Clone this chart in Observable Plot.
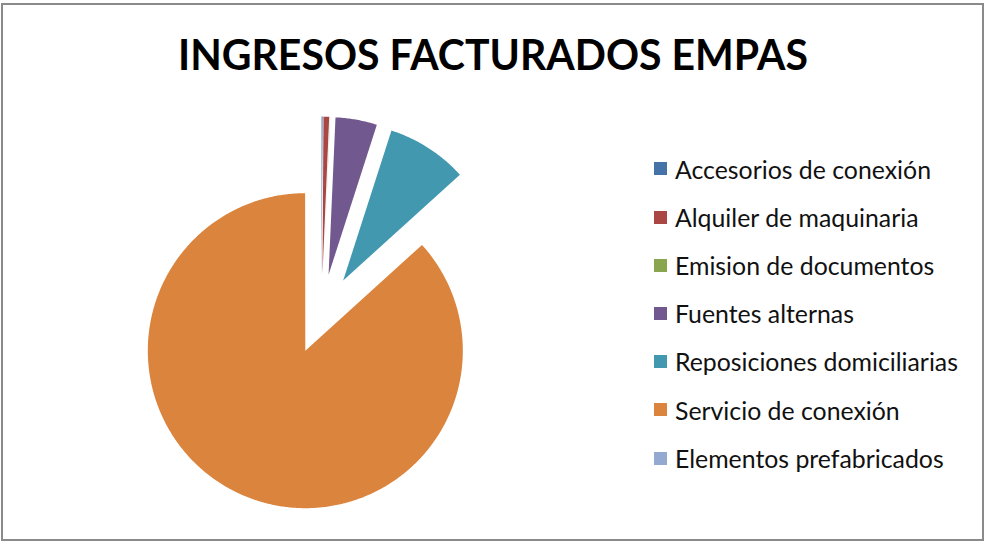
<!DOCTYPE html>
<html>
<head>
<meta charset="utf-8">
<script src="https://cdn.jsdelivr.net/npm/d3@7"></script>
<script src="https://cdn.jsdelivr.net/npm/@observablehq/plot@0.6"></script>
<style>
  html, body { margin: 0; padding: 0; background: #fff; }
  #wrap { position: relative; width: 985px; height: 542px; overflow: hidden; background: #fff; }
  #frame { position: absolute; left: 1px; top: 3px; width: 979px; height: 534px; border: 2px solid #8a8a8a; pointer-events: none; }
  #title { position: absolute; left: 0; top: 33px; font-family: Lato, "Open Sans", sans-serif; font-weight: 700; font-size: 42px; color: #000; white-space: nowrap; transform-origin: 0 0; line-height: 1; }
  #legend { position: absolute; left: 654px; top: 0; font-family: Lato, "Open Sans", sans-serif; color: #111; }
  .item { position: absolute; left: 0; white-space: nowrap; display: flex; align-items: center; }
  .sw { width: 13px; height: 13px; margin-right: 8px; flex: none; }
  .lbl { line-height: 1; }
  #chart { position: absolute; left: 0; top: 0; }
</style>
</head>
<body>
<div id="wrap">
  <div id="chart"></div>
  <div id="title"></div>
  <div id="legend"></div>
  <div id="frame"></div>
</div>
<script>
const title = "INGRESOS FACTURADOS EMPAS";
const categories = [
  "Accesorios de conexión",
  "Alquiler de maquinaria",
  "Emision de documentos",
  "Fuentes alternas",
  "Reposiciones domiciliarias",
  "Servicio de conexión",
  "Elementos prefabricados"
];
const values = [0.1, 0.58, 0.02, 4.26, 8.32, 86.7, 0.02];
const colors = ["#4572A7", "#AA4643", "#89A54E", "#71588F", "#4198AF", "#DB843D", "#93A9CF"];

const table = categories.map((name, i) => ({name, value: values[i]}));

// pie geometry in unit-radius data space (y up), slices exploded along their bisector
const explode = 40 / 157.5;
const arcs = d3.pie().sort(null).value(d => d.value).startAngle(0).endAngle(2 * Math.PI)(table);
const pts = [];
for (const a of arcs) {
  const mid = (a.startAngle + a.endAngle) / 2;
  const ox = explode * Math.sin(mid), oy = explode * Math.cos(mid);
  pts.push({name: a.data.name, x: ox, y: oy});
  const n = Math.max(2, Math.ceil((a.endAngle - a.startAngle) / (Math.PI / 360)));
  for (let k = 0; k <= n; k++) {
    const t = a.startAngle + (a.endAngle - a.startAngle) * k / n;
    pts.push({name: a.data.name, x: ox + Math.sin(t), y: oy + Math.cos(t)});
  }
}

const chart = Plot.plot({
  width: 985,
  height: 542,
  margin: 0,
  x: {domain: [-1, 1], range: [163.5, 478.5], axis: null},
  y: {domain: [-1, 1], range: [471.1, 156.1], axis: null},
  color: {domain: categories, range: colors},
  marks: [
    Plot.line(pts, {x: "x", y: "y", z: "name", fill: "name", stroke: "none", curve: "linear-closed"})
  ]
});
document.getElementById("chart").appendChild(chart);

// title
const t = document.getElementById("title");
t.textContent = title;
const tw = t.getBoundingClientRect().width;
const sx = 630 / tw;
t.style.transform = `scaleX(${sx})`;
t.style.left = "178px";

// legend
const legend = document.getElementById("legend");
const rowY0 = 169, rowStep = 48.2;
const labels = [];
categories.forEach((c, i) => {
  const it = document.createElement("div");
  it.className = "item";
  const sw = document.createElement("div");
  sw.className = "sw";
  sw.style.background = colors[i];
  const lb = document.createElement("span");
  lb.className = "lbl";
  lb.textContent = c;
  it.appendChild(sw); it.appendChild(lb);
  legend.appendChild(it);
  labels.push({it, lb, i});
});
// fit font so widest label spans like the reference
let fs = 20;
labels.forEach(l => l.lb.style.fontSize = fs + "px");
const widest = labels[4].lb.getBoundingClientRect().width;
fs = fs * 283 / widest;
labels.forEach(l => {
  l.lb.style.fontSize = fs + "px";
  const h = l.it.getBoundingClientRect().height;
  l.it.style.top = (rowY0 + rowStep * l.i - h / 2) + "px";
});
</script>
</body>
</html>
